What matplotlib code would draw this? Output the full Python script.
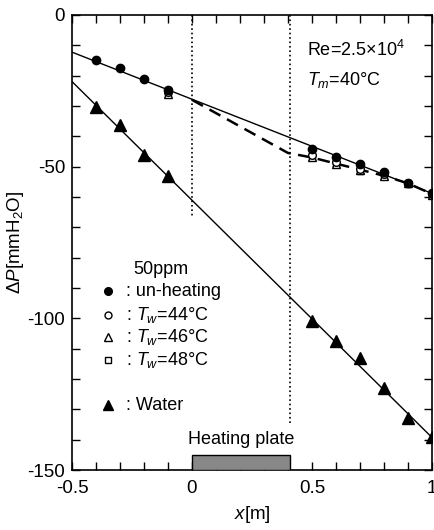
import numpy as np
import matplotlib.pyplot as plt
from matplotlib.patches import Rectangle
from matplotlib.ticker import MultipleLocator

plt.rcParams['font.family'] = ['Liberation Sans', 'DejaVu Sans']
plt.rcParams['axes.unicode_minus'] = False
plt.rcParams['mathtext.fontset'] = 'custom'
plt.rcParams['mathtext.rm'] = 'Liberation Sans'
plt.rcParams['mathtext.it'] = 'Liberation Sans:italic'

# measured points
x_all = [-0.4, -0.3, -0.2, -0.1, 0.5, 0.6, 0.7, 0.8, 0.9, 1.0]
unheat = [-15, -17.5, -21, -24.7, -44.3, -46.8, -49.2, -51.8, -55.3, -58.8]
water = [-30.4, -36.3, -46.2, -53.1, -100.9, -107.3, -113, -122.8, -132.7, -139.2]

x_heat = [-0.1, 0.5, 0.6, 0.7, 0.8, 0.9, 1.0]
tw44 = [-25.5, -46.3, -48.5, -50.8, -52.5, -55.3, -59.0]
tw46 = [-26.0, -46.8, -49.0, -51.2, -53.0, -55.5, -59.2]
tw48 = [-25.8, -47.0, -49.2, -51.5, -53.2, -55.6, -59.3]

# fitted lines
fit_x = [-0.5, 1.0]
fit_50ppm = [-12.3, -58.8]
fit_water = [-22.0, -139.2]
dash_x = [0, 0.4, 0.5, 0.6, 0.7, 0.8, 0.9, 1.0]
dash_y = [-28, -45.5, -47, -49, -51, -53, -55.5, -59]

fs = 13

fig = plt.figure(figsize=(4.34, 5.3), dpi=100)
ax = fig.add_axes([0.166, 0.113, 0.829, 0.859])

ax.plot(fit_x, fit_50ppm, color='k', lw=1)
ax.plot(fit_x, fit_water, color='k', lw=1)
ax.plot(dash_x, dash_y, color='k', lw=1.8, dashes=(5, 3))

# heating section marks
ax.plot([0, 0], [0, -67], color='k', lw=1.2, ls=':')
ax.plot([0.41, 0.41], [0, -135], color='k', lw=1.2, ls=':')
ax.add_patch(Rectangle((0, -150), 0.41, 5, facecolor='#888888', edgecolor='k', lw=1, zorder=3))
ax.text(0.205, -140, 'Heating plate', ha='center', va='center', fontsize=fs)

ax.plot(x_all, water, '^', color='k', ms=8, ls='none')
ax.plot(x_heat, tw48, 's', mfc='white', mec='k', ms=5, mew=1, ls='none')
ax.plot(x_heat, tw46, '^', mfc='white', mec='k', ms=6, mew=1, ls='none')
ax.plot(x_heat, tw44, 'o', mfc='white', mec='k', ms=5.5, mew=1, ls='none')
ax.plot(x_all, unheat, 'o', color='k', ms=6, ls='none')

# legend written by hand
lx = -0.352
tx = -0.275
ax.text(-0.245, -84, '50ppm', fontsize=fs, va='center')
ax.plot(lx, -91, 'o', color='k', ms=5.5)
ax.text(tx, -91, ': un-heating', fontsize=fs, va='center')
ax.plot(lx, -98.8, 'o', mfc='white', mec='k', ms=5)
ax.text(tx, -98.8, ': $T_w$=44°C', fontsize=fs, va='center')
ax.plot(lx, -106.3, '^', mfc='white', mec='k', ms=6)
ax.text(tx, -106.3, ': $T_w$=46°C', fontsize=fs, va='center')
ax.plot(lx, -113.8, 's', mfc='white', mec='k', ms=5)
ax.text(tx, -113.8, ': $T_w$=48°C', fontsize=fs, va='center')
ax.plot(lx, -128.7, '^', color='k', ms=7)
ax.text(tx, -128.7, ': Water', fontsize=fs, va='center')

ax.text(0.48, -11.5, 'Re=2.5×10$^4$', fontsize=fs, va='center')
ax.text(0.48, -21.5, '$T_m$=40°C', fontsize=fs, va='center')

ax.set_xlim(-0.5, 1)
ax.set_ylim(-150, 0)
ax.set_xticks([-0.5, 0, 0.5, 1])
ax.set_xticklabels(['-0.5', '0', '0.5', '1'])
ax.set_yticks([0, -50, -100, -150])
ax.set_yticklabels(['0', '-50', '-100', '-150'])
ax.xaxis.set_minor_locator(MultipleLocator(0.1))
ax.yaxis.set_minor_locator(MultipleLocator(10))
ax.tick_params(which='both', direction='in', top=True, right=True, labelsize=13.5, width=1)
ax.tick_params(which='major', length=6)
ax.tick_params(axis='x', which='major', pad=7)
ax.tick_params(axis='y', which='major', pad=5)
ax.tick_params(which='minor', length=6)
for s in ax.spines.values():
    s.set_linewidth(1.2)

ax.set_xlabel('$x$[m]', fontsize=13.5, labelpad=5)
ax.set_ylabel(r'$\Delta P$[mmH$_2$O]', fontsize=13.5, labelpad=1)

fig.savefig('out.png', dpi=100)
